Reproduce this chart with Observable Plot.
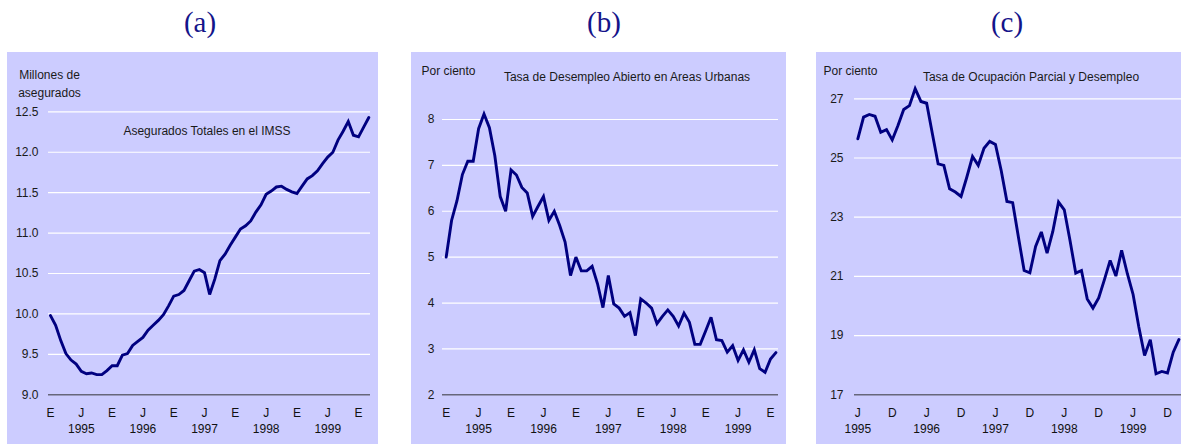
<!DOCTYPE html>
<html>
<head>
<meta charset="utf-8">
<script src="https://cdn.jsdelivr.net/npm/d3@7"></script>
<script src="https://cdn.jsdelivr.net/npm/@observablehq/plot@0.6"></script>
<style>
  body { margin: 0; background: #fff; }
  #wrap { position: relative; width: 1181px; height: 444px; overflow: hidden; }
  .ptitle { position: absolute; top: 4px; width: 80px; margin-left: -40px; text-align: center;
            font-family: "Liberation Serif", "Times New Roman", serif; font-size: 29px; color: #14148a; line-height: 36px; }
  .panel { position: absolute; top: 52px; }
</style>
</head>
<body>
<div id="wrap"></div>
<script>
// ---------- Data ----------
const panelTitles = ["(a)", "(b)", "(c)"];

// (a) Asegurados totales en el IMSS, millones, mensual ene-1995 .. mar-2000
const imssValues = [
  9.98, 9.86, 9.67, 9.51, 9.43, 9.38, 9.29, 9.26, 9.27, 9.25, 9.25, 9.30,
  9.36, 9.36, 9.49, 9.51, 9.61, 9.66, 9.71, 9.80, 9.86, 9.92, 9.99, 10.10,
  10.22, 10.24, 10.29, 10.41, 10.53, 10.55, 10.51, 10.24, 10.43, 10.66, 10.74, 10.85,
  10.95, 11.05, 11.09, 11.15, 11.26, 11.35, 11.48, 11.52, 11.57, 11.58, 11.54, 11.51,
  11.49, 11.58, 11.67, 11.71, 11.77, 11.86, 11.94, 12.00, 12.15, 12.26, 12.38, 12.21,
  12.19, 12.31, 12.43
];
// (b) Tasa de desempleo abierto en areas urbanas, %, ene-1995 .. feb-2000
const desempleoValues = [
  5.0, 5.8, 6.23, 6.8, 7.09, 7.09, 7.8, 8.12, 7.82, 7.21, 6.32, 6.0,
  6.9, 6.79, 6.52, 6.4, 5.89, 6.11, 6.32, 5.8, 6.0, 5.69, 5.33, 4.6,
  5.0, 4.7, 4.7, 4.8, 4.42, 3.9, 4.6, 3.98, 3.89, 3.71, 3.79, 3.29,
  4.09, 4.0, 3.89, 3.55, 3.71, 3.85, 3.71, 3.5, 3.78, 3.58, 3.1, 3.1,
  3.39, 3.69, 3.2, 3.18, 2.93, 3.07, 2.75, 2.98, 2.71, 2.98, 2.57, 2.49,
  2.78, 2.92
];
// (c) Tasa de ocupacion parcial y desempleo, %, jun-1995 .. feb-2000
const ocupacionValues = [
  25.65, 26.38, 26.47, 26.41, 25.87, 25.96, 25.61, 26.1, 26.64, 26.77, 27.34, 26.91,
  26.85, 25.82, 24.8, 24.75, 23.96, 23.85, 23.7, 24.35, 25.05, 24.75, 25.33, 25.56,
  25.46, 24.58, 23.53, 23.49, 22.33, 21.2, 21.12, 22.01, 22.5, 21.79, 22.52, 23.51,
  23.25, 22.21, 21.11, 21.2, 20.24, 19.93, 20.27, 20.89, 21.54, 21.01, 21.88, 21.09,
  20.39, 19.29, 18.33, 18.86, 17.71, 17.79, 17.74, 18.44, 18.87
];

// Tick labels
const abMonthTicks = [0, 6, 12, 18, 24, 30, 36, 42, 48, 54, 60];
const abMonthLabels = ["E", "J", "E", "J", "E", "J", "E", "J", "E", "J", "E"];
const abYearTicks = [6, 18, 30, 42, 54];
const cMonthTicks = [0, 6, 12, 18, 24, 30, 36, 42, 48, 54];
const cMonthLabels = ["J", "D", "J", "D", "J", "D", "J", "D", "J", "D"];
const cYearTicks = [0, 12, 24, 36, 48];
const yearLabels = ["1995", "1996", "1997", "1998", "1999"];

const aYTicks = [9.0, 9.5, 10.0, 10.5, 11.0, 11.5, 12.0, 12.5];
const bYTicks = [2, 3, 4, 5, 6, 7, 8];
const cYTicks = [17, 19, 21, 23, 25, 27];

const innerTitles = [
  "Asegurados Totales en el IMSS",
  "Tasa de Desempleo Abierto en Areas Urbanas",
  "Tasa de Ocupación Parcial y Desempleo"
];
const unitLabels = ["Millones de\nasegurados", "Por ciento", "Por ciento"];

// ---------- Drawing ----------
const FONT = "'Liberation Sans', Arial, Helvetica, sans-serif";

function panel(cfg) {
  const lab = (ticks, labels) => d => labels[ticks.indexOf(d)];
  return Plot.plot({
    width: cfg.width,
    height: 392,
    marginLeft: cfg.ml,
    marginRight: cfg.mr,
    marginTop: cfg.mt,
    marginBottom: 49.7,
    style: { background: "#ccccff", fontFamily: FONT, fontSize: "12px", color: "#1a1a1a", overflow: "visible" },
    x: { domain: cfg.xDomain },
    y: { domain: [cfg.yTicks[0], cfg.yTicks[cfg.yTicks.length - 1]] },
    marks: [
      Plot.ruleY(cfg.yTicks.slice(1), { stroke: "#ffffff", strokeWidth: 1.2 }),
      Plot.ruleY([cfg.yTicks[0]], { stroke: "#66667a", strokeWidth: 1.6 }),
      Plot.axisY({ ticks: cfg.yTicks, tickSize: 0, tickPadding: cfg.yPad, tickFormat: cfg.yFormat, label: null, fill: "#1a1a1a" }),
      Plot.axisX({ ticks: cfg.monthTicks, tickSize: 0, tickPadding: 14, tickFormat: lab(cfg.monthTicks, cfg.monthLabels), label: null, fill: "#111" }),
      Plot.axisX({ ticks: cfg.yearTicks, tickSize: 0, tickPadding: 29.5, tickFormat: lab(cfg.yearTicks, yearLabels), label: null, fill: "#111" }),
      Plot.lineY(cfg.values, { x: (d, i) => i, y: d => d, stroke: "#000080", strokeWidth: 2.9, strokeLinejoin: "miter", strokeMiterlimit: 3 }),
      Plot.text([cfg.unit], { frameAnchor: "top-left", dx: cfg.unitDx, dy: cfg.unitDy, textAnchor: cfg.unitAnchor, lineAnchor: "middle", lineHeight: 1.45, fill: "#1a1a1a" }),
      Plot.text([cfg.title], { frameAnchor: "top", dx: cfg.titleDx, dy: cfg.titleDy, lineAnchor: "middle", fill: "#1a1a1a" })
    ]
  });
}

const wrap = document.getElementById("wrap");
const titleCenters = [200, 604, 1007];
panelTitles.forEach((t, i) => {
  const d = document.createElement("div");
  d.className = "ptitle";
  d.style.left = titleCenters[i] + "px";
  d.textContent = t;
  wrap.appendChild(d);
});

const configs = [
  { left: 7, width: 371, ml: 41, mr: 8, mt: 59.3, xDomain: [-0.39, 62.33],
    values: imssValues, yTicks: aYTicks, yPad: 10, yFormat: d3.format(".1f"),
    monthTicks: abMonthTicks, monthLabels: abMonthLabels, yearTicks: abYearTicks,
    unit: unitLabels[0], unitDx: 1, unitDy: -29.5, unitAnchor: "middle",
    title: innerTitles[0], titleDx: -2.5, titleDy: 19.7 },
  { left: 411, width: 375, ml: 31, mr: 8, mt: 67, xDomain: [-0.68, 61.48],
    values: desempleoValues, yTicks: bYTicks, yPad: 8, yFormat: d3.format("d"),
    monthTicks: abMonthTicks, monthLabels: abMonthLabels, yearTicks: abYearTicks,
    unit: unitLabels[1], unitDx: -21, unitDy: -50, unitAnchor: "start",
    title: innerTitles[1], titleDx: 16.5, titleDy: -42 },
  { left: 816, width: 365, ml: 38, mr: 0, mt: 46.3, xDomain: [-0.58, 56.44],
    values: ocupacionValues, yTicks: cYTicks, yPad: 11, yFormat: d3.format("d"),
    monthTicks: cMonthTicks, monthLabels: cMonthLabels, yearTicks: cYearTicks,
    unit: unitLabels[2], unitDx: -31, unitDy: -29.3, unitAnchor: "start",
    title: innerTitles[2], titleDx: 13, titleDy: -21.3 }
];

configs.forEach(cfg => {
  const div = document.createElement("div");
  div.className = "panel";
  div.style.left = cfg.left + "px";
  div.appendChild(panel(cfg));
  wrap.appendChild(div);
});
</script>
</body>
</html>
